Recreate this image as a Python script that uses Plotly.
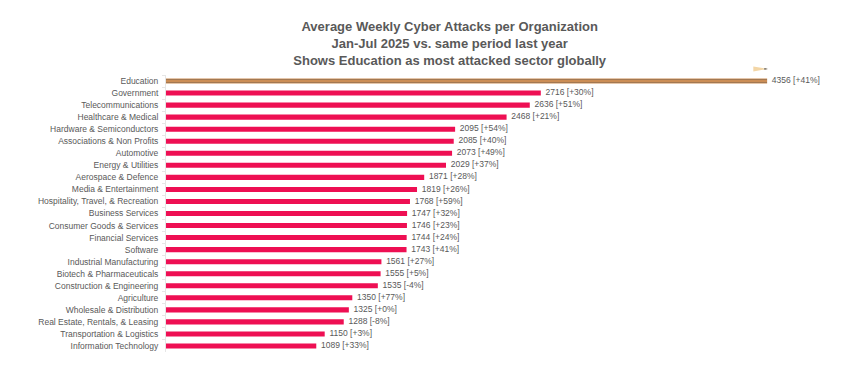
import plotly.graph_objects as go

sectors = ["Education", "Government", "Telecommunications", "Healthcare & Medical",
           "Hardware & Semiconductors", "Associations & Non Profits", "Automotive",
           "Energy & Utilities", "Aerospace & Defence", "Media & Entertainment",
           "Hospitality, Travel, & Recreation", "Business Services",
           "Consumer Goods & Services", "Financial Services", "Software",
           "Industrial Manufacturing", "Biotech & Pharmaceuticals",
           "Construction & Engineering", "Agriculture", "Wholesale & Distribution",
           "Real Estate, Rentals, & Leasing", "Transportation & Logistics",
           "Information Technology"]
attacks = [4356, 2716, 2636, 2468, 2095, 2085, 2073, 2029, 1871, 1819, 1768, 1747,
           1746, 1744, 1743, 1561, 1555, 1535, 1350, 1325, 1288, 1150, 1089]
change = ["+41%", "+30%", "+51%", "+21%", "+54%", "+40%", "+49%", "+37%", "+28%", "+26%",
          "+59%", "+32%", "+23%", "+24%", "+41%", "+27%", "+5%", "-4%", "+77%", "+0%",
          "-8%", "+3%", "+33%"]

labels = ["  " + f"{v} [{c}]" for v, c in zip(attacks, change)]
colors = ["#CB8D55"] + ["#EE0F53"] * (len(sectors) - 1)
FONT = "Liberation Sans, Arial"

fig = go.Figure()
fig.add_trace(go.Bar(
    x=attacks, y=sectors, orientation="h",
    marker=dict(color=colors, line=dict(width=0),
                pattern=dict(shape=["-"] + [""] * (len(sectors) - 1),
                             fgcolor="#A0643A", size=3, solidity=0.2)),
    width=0.42,
    hoverinfo="skip",
))
fig.add_trace(go.Scatter(
    x=attacks, y=sectors, mode="text", text=labels,
    textposition="middle right", cliponaxis=False,
    textfont=dict(size=8.5, color="#595959", family=FONT),
    hoverinfo="skip",
))

# pencil tip decoration above the end of the Education bar
top = attacks[0]
fig.add_shape(type="path", xref="x", yref="paper",
              path=f"M {top-100},1.013 L {top-100},1.031 L {top+6},1.022 Z",
              fillcolor="#F3D6A6", line=dict(width=0), layer="above")
fig.add_shape(type="path", xref="x", yref="paper",
              path=f"M {top-20},1.019 L {top-20},1.025 L {top+6},1.022 Z",
              fillcolor="#555555", line=dict(width=0), layer="above")

fig.update_layout(
    width=856, height=363,
    margin=dict(l=158, r=8, t=67, b=19),
    paper_bgcolor="white", plot_bgcolor="white",
    showlegend=False,
    title=dict(
        text="<b>Average Weekly Cyber Attacks per Organization<br>Jan-Jul 2025 vs. same period last year<br>Shows Education as most attacked sector globally</b>",
        x=0.516, xanchor="center", y=0.936, yanchor="top",
        font=dict(size=13, color="#595959", family=FONT),
    ),
    font=dict(family=FONT, color="#595959", size=9),
)
fig.update_xaxes(range=[0, 5000], visible=False, showgrid=False, zeroline=False)
fig.update_yaxes(range=[22.5, -0.5], automargin=False, showgrid=False, showline=True,
                 linecolor="#E6E6E6", linewidth=1, ticks="outside", ticklen=3,
                 tickcolor="#E6E6E6", tickson="boundaries", ticklabelstandoff=5,
                 tickfont=dict(size=8.5, color="#595959", family=FONT))

fig.write_html("out.html")
